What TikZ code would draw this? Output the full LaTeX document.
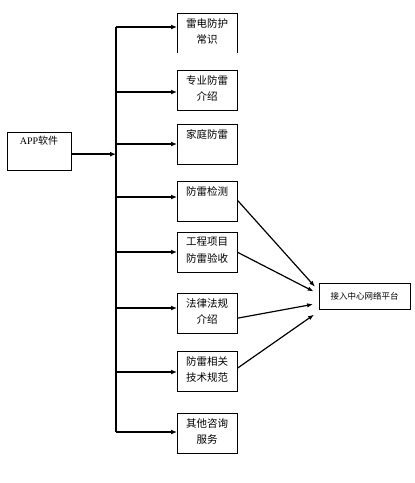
\documentclass[tikz,border=0pt]{standalone}
\usepackage{fontspec}
\setmainfont{Liberation Serif}
\newfontfamily\cjk{Noto Sans CJK SC}
\usetikzlibrary{arrows.meta}

\tikzset{
  topic/.style={draw, thin, anchor=north west, inner sep=3pt,
    font=\cjk\fontsize{10.5}{16.5}\selectfont,
    execute at begin node={\begin{minipage}[t][34pt][t]{54pt}\centering\vspace*{2pt}},
    execute at end node={\end{minipage}}},
  trunk/.style={line width=1.6pt},
  feed/.style={line width=1.6pt, -{Latex[length=6pt,width=5pt]}},
  merge/.style={line width=1.2pt, -{Latex[length=6pt,width=4.5pt]}, shorten >=6pt},
}

\begin{document}
\begin{tikzpicture}[x=1pt, y=-1pt]
    \useasboundingbox (0,0) rectangle (415,483);

    % --- SOURCE ---
    \node[draw, thin, anchor=north west, minimum width=64pt, minimum height=38pt,
          inner sep=0pt] (app) at (7,132) {};
    \node[font=\fontsize{10}{12}\selectfont] (apptext) at (39,141) {APP{\cjk 软件}};

    % --- TOPIC BOXES ---
    \node[topic, draw=none] (b1) at (177,13) {雷电防护\\常识};
    \draw[thin] (b1.south west) -- (b1.north west) -- (b1.north east) -- (b1.south east);
    \node[topic] (b2) at (177,70)  {专业防雷\\介绍};
    \node[topic] (b3) at (177,124) {家庭防雷};
    \node[topic] (b4) at (177,181) {防雷检测};
    \node[topic] (b5) at (177,232) {工程项目\\防雷验收};
    \node[topic] (b6) at (177,293) {法律法规\\介绍};
    \node[topic] (b7) at (177,351) {防雷相关\\技术规范};
    \node[topic] (b8) at (177,413) {其他咨询\\服务};

    % --- TARGET ---
    \node[draw, thin, anchor=north west, minimum width=91pt, minimum height=26pt,
          inner sep=0pt, font=\cjk\fontsize{8.5}{10}\selectfont] (plat) at (319,283) {接入中心网络平台};

    % --- TRUNK AND BRANCHES ---
    \foreach \i/\y in {1/27, 2/92, 3/144, 4/197, 5/252, 6/308, 7/372, 8/432}
        \coordinate (t\i) at (116,\y);
    \draw[trunk] (t1) -- (t8);
    \foreach \i in {1,...,8}
        \draw[feed] (t\i) -- (t\i -| b\i.west);
    \draw[feed] ([yshift=-3pt]app.east) -- ([yshift=-3pt]app.east -| t1);

    % --- INTO THE PLATFORM ---
    \draw[merge] ([yshift=1pt]b4.east) -- ([yshift=5pt]plat.west);
    \draw[merge] (b5.east) -- ([yshift=2pt]plat.west);
    \draw[merge] ([yshift=-5pt]b6.east) -- ([yshift=-7pt]plat.west);
    \draw[merge] ([yshift=3pt]b7.east) -- ([yshift=-15pt]plat.west);
\end{tikzpicture}
\end{document}
